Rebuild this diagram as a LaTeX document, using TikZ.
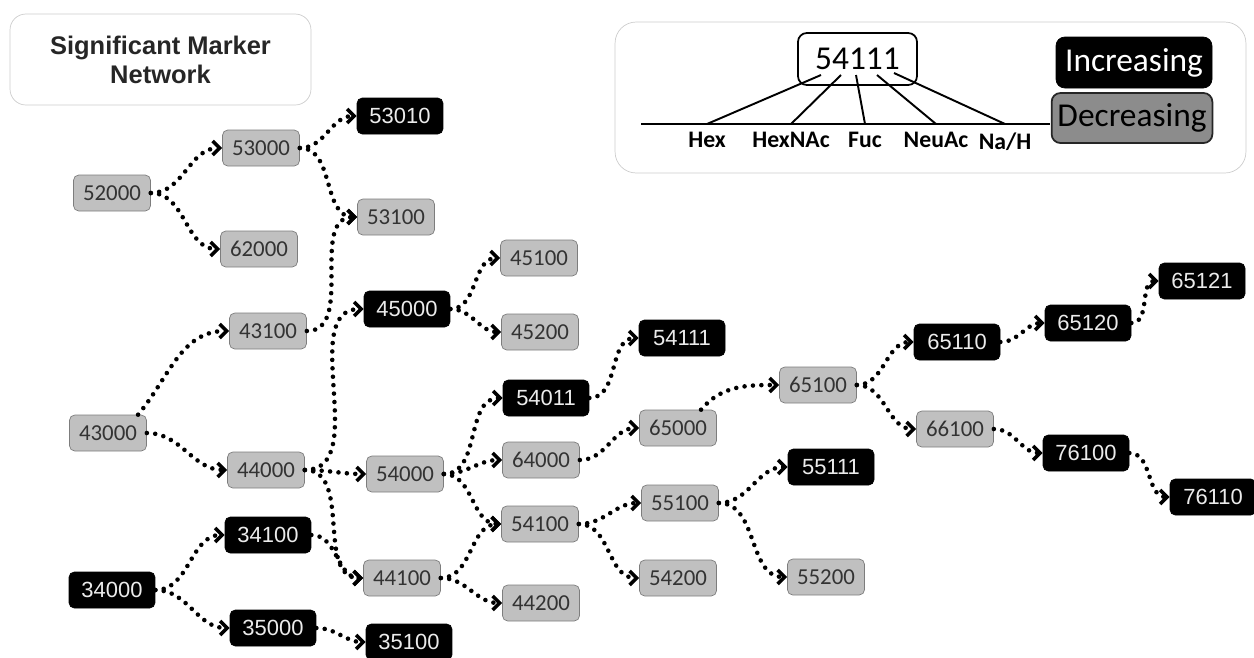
\documentclass[tikz,border=0pt]{standalone}
\usepackage{fontspec}
\setmainfont{Liberation Sans}
\newfontfamily\calfont{Carlito}
\usetikzlibrary{arrows.meta}
\definecolor{boxgray}{RGB}{192,192,192}
\definecolor{rimgray}{RGB}{125,125,125}
\definecolor{framegray}{RGB}{205,205,205}
\definecolor{darkfill}{RGB}{140,140,140}
\tikzset{
  gnode/.style={draw=rimgray, fill=boxgray, rounded corners=3pt, minimum width=1.54cm, minimum height=0.72cm, inner sep=0pt, text=black!80, font=\calfont\fontsize{13}{15}\selectfont},
  bnode/.style={draw=black, fill=black, rounded corners=3pt, minimum width=1.72cm, minimum height=0.72cm, inner sep=0pt, text=white!92!black, font=\fontsize{12.5}{14}\selectfont},
  link/.style={line width=2.6pt, dash pattern=on 0pt off 4.8pt, line cap=round, -{Straight Barb[length=4pt,width=8pt,line width=2pt]}},
  tag/.style={font=\calfont\bfseries\fontsize{13.5}{15}\selectfont}
}
\begin{document}
\begin{tikzpicture}[x=0.02cm,y=-0.02cm]
    \useasboundingbox (0,0) rectangle (1254,657);

    \node[draw=framegray, rounded corners=9pt, minimum width=6.02cm, minimum height=1.82cm, align=center, text=black!85, font=\bfseries\fontsize{14.5}{16.5}\selectfont] (title) at (160.5,59.5) {Significant Marker\\Network};

    \node[draw=framegray, rounded corners=12pt, minimum width=12.62cm, minimum height=3.02cm] (legend) at (930.5,97.5) {};
    \node[draw=black, line width=1pt, rounded corners=5pt, minimum width=2.38cm, minimum height=1.04cm, font=\calfont\fontsize{19}{21}\selectfont] (key) at (857.5,59) {54111};
    \node[draw=black, fill=black, rounded corners=5pt, minimum width=3.12cm, minimum height=1.02cm, text=white, font=\calfont\fontsize{19}{21}\selectfont] (inc) at (1134,62.5) {Increasing};
    \node[draw=black!85, fill=darkfill, line width=1pt, rounded corners=5pt, minimum width=3.12cm, minimum height=1.0cm, font=\calfont\fontsize{19}{21}\selectfont] (dec) at (1132,118) {Decreasing};
    \coordinate (base-l) at (641,124);
    \coordinate (base-r) at (1050,124);
    \draw[line width=1.1pt] (base-l) -- (base-r);
    \node[tag] (hex) at (707,140) {Hex};
    \node[tag] (hexnac) at (791,140) {HexNAc};
    \node[tag] (fuc) at (865,140) {Fuc};
    \node[tag] (neuac) at (936,140) {NeuAc};
    \node[tag] (nah) at (1005,142) {Na/H};
    \coordinate (k1) at (821,75);
    \coordinate (k2) at (841,75);
    \coordinate (k3) at (856,75);
    \coordinate (k4) at (877,75);
    \coordinate (k5) at (894,73);
    \draw[line width=1.1pt] (k1) -- (hex.north |- base-l);
    \draw[line width=1.1pt] (k2) -- (hexnac.north |- base-l);
    \draw[line width=1.1pt] (k3) -- (fuc.north |- base-l);
    \draw[line width=1.1pt] (k4) -- (neuac.north |- base-l);
    \draw[line width=1.1pt] (k5) -- (nah.north |- base-l);

    \node[gnode] (m52000) at (112,193) {52000};
    \node[gnode] (m53000) at (261,148) {53000};
    \node[bnode] (m53010) at (400,116) {53010};
    \node[gnode] (m62000) at (259,249) {62000};
    \node[gnode] (m53100) at (396,217) {53100};
    \node[gnode] (m43100) at (268,331) {43100};
    \node[bnode] (m45000) at (407,309) {45000};
    \node[gnode] (m45100) at (539,258) {45100};
    \node[gnode] (m45200) at (540,332) {45200};
    \node[bnode] (m54111) at (682,338) {54111};
    \node[bnode] (m54011) at (546,398) {54011};
    \node[gnode] (m65000) at (678,428) {65000};
    \node[gnode] (m64000) at (541,460) {64000};
    \node[gnode] (m65100) at (818,385) {65100};
    \node[bnode] (m65110) at (957,342) {65110};
    \node[bnode] (m65120) at (1088,323) {65120};
    \node[bnode] (m65121) at (1202,281) {65121};
    \node[gnode] (m66100) at (955,429) {66100};
    \node[bnode] (m76100) at (1086,453) {76100};
    \node[bnode] (m76110) at (1213,497) {76110};
    \node[bnode] (m55111) at (831,467) {55111};
    \node[gnode] (m55100) at (680,503) {55100};
    \node[gnode] (m55200) at (826,577) {55200};
    \node[gnode] (m54200) at (678,578) {54200};
    \node[gnode] (m54100) at (540,524) {54100};
    \node[gnode] (m44200) at (541,603) {44200};
    \node[gnode] (m43000) at (108,433) {43000};
    \node[gnode] (m44000) at (266,470) {44000};
    \node[gnode] (m54000) at (405,474) {54000};
    \node[gnode] (m44100) at (402,578) {44100};
    \node[bnode] (m34100) at (268,535) {34100};
    \node[bnode] (m34000) at (112,590) {34000};
    \node[bnode] (m35000) at (273,628) {35000};
    \node[bnode] (m35100) at (409,642) {35100};

    \draw[link] (m52000.east) to[out=0,in=180] (m53000.west);
    \draw[link] (m52000.east) to[out=0,in=180] (m62000.west);
    \draw[link] (m53000.east) to[out=0,in=180] (m53010.west);
    \draw[link] (m53000.east) to[out=0,in=180] (m53100.west);
    \draw[link] (m43100.east) to[out=0,in=180] (m53100.west);
    \draw[link] ([xshift=-5pt]m43000.north east) to[out=50,in=180] (m43100.west);
    \draw[link] (m43000.east) to[out=0,in=180] (m44000.west);
    \draw[link] (m44000.east) to[out=0,in=180] (m45000.west);
    \draw[link] (m44000.east) to[out=0,in=180] (m54000.west);
    \draw[link] (m44000.east) to[out=0,in=180] (m44100.west);
    \draw[link] (m45000.east) to[out=0,in=180] (m45100.west);
    \draw[link] (m45000.east) to[out=0,in=180] (m45200.west);
    \draw[link] (m54000.east) to[out=0,in=180] (m54011.west);
    \draw[link] (m54000.east) to[out=0,in=180] (m64000.west);
    \draw[link] (m54000.east) to[out=0,in=180] (m54100.west);
    \draw[link] (m54011.east) to[out=0,in=180] (m54111.west);
    \draw[link] (m64000.east) to[out=0,in=180] (m65000.west);
    \draw[link] ([xshift=-9pt]m65000.north east) to[out=50,in=180] (m65100.west);
    \draw[link] (m65100.east) to[out=0,in=180] (m65110.west);
    \draw[link] (m65100.east) to[out=0,in=180] (m66100.west);
    \draw[link] (m65110.east) to[out=0,in=180] (m65120.west);
    \draw[link] (m65120.east) to[out=0,in=180] (m65121.west);
    \draw[link] (m66100.east) to[out=0,in=180] (m76100.west);
    \draw[link] (m76100.east) to[out=0,in=180] (m76110.west);
    \draw[link] (m44100.east) to[out=0,in=180] (m54100.west);
    \draw[link] (m44100.east) to[out=0,in=180] (m44200.west);
    \draw[link] (m54100.east) to[out=0,in=180] (m55100.west);
    \draw[link] (m54100.east) to[out=0,in=180] (m54200.west);
    \draw[link] (m55100.east) to[out=0,in=180] (m55111.west);
    \draw[link] (m55100.east) to[out=0,in=180] (m55200.west);
    \draw[link] (m34000.east) to[out=0,in=180] (m34100.west);
    \draw[link] (m34000.east) to[out=0,in=180] (m35000.west);
    \draw[link] (m34100.east) to[out=0,in=180] (m44100.west);
    \draw[link] (m35000.east) to[out=0,in=180] (m35100.west);
\end{tikzpicture}
\end{document}
